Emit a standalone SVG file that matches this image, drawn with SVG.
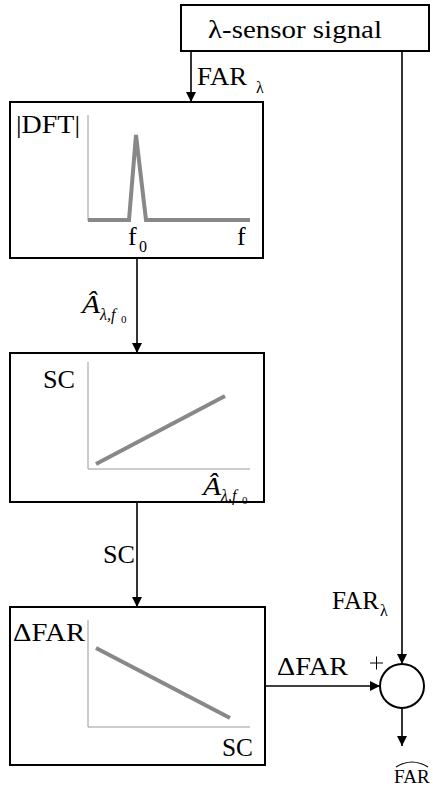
<svg xmlns="http://www.w3.org/2000/svg" width="433" height="790" viewBox="0 0 433 790" font-family="Liberation Serif, Times New Roman, serif">
<style>
text{fill:#000}
.t{font-size:26px}
.sub{font-size:16px}
.box{fill:#fff;stroke:#000;stroke-width:2}
.axis{stroke:#999;stroke-width:1;fill:none}
.curve{stroke:#888;stroke-width:4;fill:none}
.conn{stroke:#000;stroke-width:1.6;fill:none}
.math{font-style:italic}
</style>
<defs>
<marker id="ah" viewBox="0 0 10 10" refX="10" refY="5" markerWidth="10" markerHeight="10" markerUnits="userSpaceOnUse" orient="auto">
<path d="M0,0 L10,5 L0,10 z" fill="#000"/>
</marker>
</defs>
<g id="connectors">
<line class="conn" x1="191" y1="51" x2="191" y2="102" marker-end="url(#ah)"/>
<line class="conn" x1="137" y1="258" x2="137" y2="353" marker-end="url(#ah)"/>
<line class="conn" x1="137" y1="502" x2="137" y2="607" marker-end="url(#ah)"/>
<line class="conn" x1="402" y1="51" x2="402" y2="664" marker-end="url(#ah)"/>
<line class="conn" x1="265" y1="686" x2="380" y2="686" marker-end="url(#ah)"/>
<line class="conn" x1="402" y1="708" x2="402" y2="746" marker-end="url(#ah)"/>
<text class="t" x="197" y="85" textLength="50" lengthAdjust="spacingAndGlyphs">FAR</text><text class="sub" x="256" y="93">λ</text>
<text class="t math" x="82" y="313" textLength="18" lengthAdjust="spacingAndGlyphs">Â</text><text class="sub math" x="100" y="320">λ,f</text><text style="font-size:11px" x="121" y="323">0</text>
<text class="t" x="103" y="563" textLength="32" lengthAdjust="spacingAndGlyphs">SC</text>
<text class="t" x="277" y="675" textLength="71" lengthAdjust="spacingAndGlyphs">ΔFAR</text>
<text class="t" x="332" y="609" textLength="47" lengthAdjust="spacingAndGlyphs">FAR</text><text class="sub" x="380" y="616">λ</text>
<text style="font-size:19px" x="394" y="783">FAR</text>
<path d="M396,767 Q412,757 428,767" fill="none" stroke="#000" stroke-width="1.2"/>
<path d="M370,663 H383 M376.5,656.5 V669.5" fill="none" stroke="#000" stroke-width="1"/>
</g>
<g id="sensor">
<rect class="box" x="181" y="5" width="248" height="46"/>
<text class="t" x="208" y="38" textLength="174" lengthAdjust="spacingAndGlyphs">λ-sensor signal</text>
</g>
<g id="dft">
<rect class="box" x="10" y="102" width="253" height="156"/>
<text class="t" x="16" y="133" textLength="64" lengthAdjust="spacingAndGlyphs">|DFT|</text>
<line class="axis" x1="88" y1="115" x2="88" y2="221"/>
<polyline class="curve" points="88,220 129,220 136,135 146,220 250,220"/>
<text class="t" x="128" y="245">f</text><text class="sub" x="139" y="252">0</text>
<text class="t" x="237" y="245">f</text>
</g>
<g id="sc">
<rect class="box" x="10" y="353" width="254" height="149"/>
<text class="t" x="43" y="388" textLength="32" lengthAdjust="spacingAndGlyphs">SC</text>
<line class="axis" x1="88" y1="362" x2="88" y2="469"/>
<line class="axis" x1="88" y1="469" x2="250" y2="469"/>
<line class="curve" x1="96" y1="464" x2="225" y2="396"/>
<text class="t math" x="203" y="495" textLength="18" lengthAdjust="spacingAndGlyphs">Â</text><text class="sub math" x="221" y="501">λ,f</text><text style="font-size:11px" x="242" y="504">0</text>
</g>
<g id="dfar">
<rect class="box" x="10" y="607" width="255" height="158"/>
<text class="t" x="13" y="641" textLength="72" lengthAdjust="spacingAndGlyphs">ΔFAR</text>
<line class="axis" x1="88" y1="620" x2="88" y2="727"/>
<line class="axis" x1="88" y1="727" x2="250" y2="727"/>
<line class="curve" x1="96" y1="648" x2="230" y2="718"/>
<text class="t" x="222" y="756" textLength="31" lengthAdjust="spacingAndGlyphs">SC</text>
</g>
<g id="sum">
<circle cx="402" cy="686" r="22" fill="#fff" stroke="#000" stroke-width="2"/>
</g>
</svg>
